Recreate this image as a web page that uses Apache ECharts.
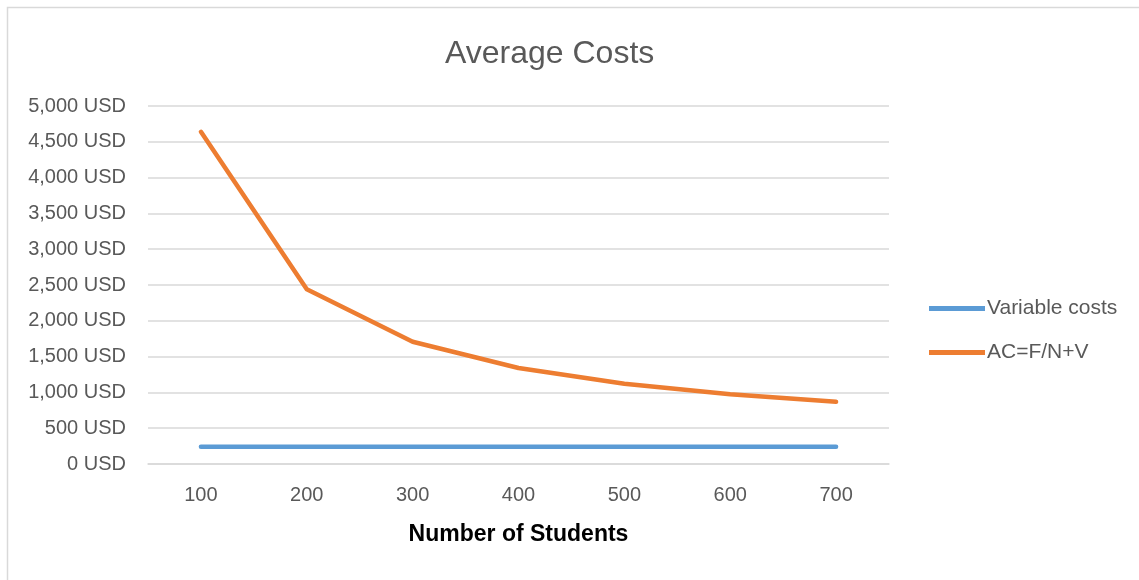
<!DOCTYPE html>
<html>
<head>
<meta charset="utf-8">
<script src="https://cdn.jsdelivr.net/npm/echarts@6/dist/echarts.min.js"></script>
<style>
html,body{margin:0;padding:0;background:#fff;}
#chart{width:1139px;height:580px;}
</style>
</head>
<body>
<div id="chart"></div>
<script>
const categories = ['100','200','300','400','500','600','700'];
const variableCosts = [240,240,240,240,240,240,240];
const averageCosts = [4640,2440,1707,1340,1120,973,869];
const seriesNames = ['Variable costs','AC=F/N+V'];

const FONT = '"Liberation Sans", "Open Sans", sans-serif';
const chart = echarts.init(document.getElementById('chart'));
chart.setOption({
  animation: false,
  backgroundColor: '#fff',
  textStyle: { fontFamily: FONT },
  graphic: [{
    type: 'rect',
    shape: { x: 7.5, y: 7.5, width: 1150, height: 600 },
    style: { fill: 'none', stroke: '#d9d9d9', lineWidth: 1.5 },
    silent: true
  }],
  title: {
    text: 'Average Costs',
    left: 440,
    top: 33,
    textStyle: { fontFamily: FONT, fontSize: 32, fontWeight: 'normal', color: '#595959' }
  },
  legend: {
    orient: 'vertical',
    left: 924,
    top: 293,
    itemWidth: 56,
    itemHeight: 14,
    itemGap: 23,
    icon: 'path://M0,0 L56,0 L56,5 L0,5 Z',
    textStyle: { fontFamily: FONT, fontSize: 21, color: '#595959', padding: [0,0,0,-3] },
    data: seriesNames
  },
  grid: { left: 148, right: 250, top: 106, bottom: 116, containLabel: false },
  xAxis: {
    type: 'category',
    data: categories,
    boundaryGap: true,
    axisLine: { show: true, lineStyle: { color: '#d9d9d9', width: 1.5 } },
    axisTick: { show: false },
    axisLabel: { color: '#595959', fontSize: 20, margin: 21, fontFamily: FONT },
    name: 'Number of Students',
    nameLocation: 'middle',
    nameGap: 59,
    nameTextStyle: { fontFamily: FONT, fontSize: 23, fontWeight: 'bold', color: '#000' }
  },
  yAxis: {
    type: 'value',
    min: 0,
    max: 5000,
    interval: 500,
    axisLine: { show: false },
    axisTick: { show: false },
    splitLine: { lineStyle: { color: '#d9d9d9', width: 1.5 } },
    axisLabel: {
      color: '#595959', fontSize: 20, margin: 22, fontFamily: FONT,
      formatter: v => v.toLocaleString('en-US') + ' USD'
    }
  },
  series: [
    {
      name: seriesNames[0],
      type: 'line',
      data: variableCosts,
      symbol: 'none',
      lineStyle: { color: '#5B9BD5', width: 4.5, cap: 'round' },
      itemStyle: { color: '#5B9BD5' }
    },
    {
      name: seriesNames[1],
      type: 'line',
      data: averageCosts,
      symbol: 'none',
      lineStyle: { color: '#ED7D31', width: 4.5, cap: 'round', join: 'round' },
      itemStyle: { color: '#ED7D31' }
    }
  ]
});
</script>
</body>
</html>
